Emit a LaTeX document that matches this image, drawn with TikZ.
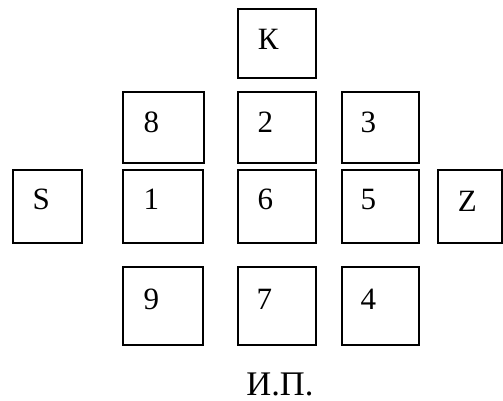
\documentclass[tikz,border=0pt]{standalone}
\usepackage{fontspec}
\setmainfont{Liberation Serif}
\begin{document}
\begin{tikzpicture}[x=1pt,y=1pt,
  cell/.style={draw, line width=1.5pt, inner sep=0pt, minimum width=#1},
  cell/.default=79pt,
  tag/.style={inner sep=0pt, font=\fontsize{31}{31}\selectfont},
]
\useasboundingbox (0,0) rectangle (503,400);
% top box
\node[cell=78pt, minimum height=69pt] (bK) at (277,356.5) {};
% second row
\node[cell=81pt, minimum height=71pt] (b8) at (163.5,272.5) {};
\node[cell=78pt, minimum height=71pt] (b2) at (277,272.5) {};
\node[cell=77pt, minimum height=71pt] (b3) at (380.5,272.5) {};
% middle row
\node[cell=69pt, minimum height=73pt] (bS) at (47.5,193.5) {};
\node[cell=80pt, minimum height=73pt] (b1) at (163,193.5) {};
\node[cell=78pt, minimum height=73pt] (b6) at (277,193.5) {};
\node[cell=77pt, minimum height=73pt] (b5) at (380.5,193.5) {};
\node[cell=64pt, minimum height=73pt] (bZ) at (470,193.5) {};
% bottom row
\node[cell=80pt, minimum height=78pt] (b9) at (163,94) {};
\node[cell=78pt, minimum height=78pt] (b7) at (277,94) {};
\node[cell=77pt, minimum height=78pt] (b4) at (380.5,94) {};
% labels inside the boxes
\node[tag] (tK) at ([shift={(31,-31)}]bK.north west) {К};
\node[tag] (t8) at ([shift={(29,-31)}]b8.north west) {8};
\node[tag] (t2) at ([shift={(28,-31)}]b2.north west) {2};
\node[tag] (t3) at ([shift={(27,-31)}]b3.north west) {3};
\node[tag] (tS) at ([shift={(29,-30)}]bS.north west) {S};
\node[tag] (t1) at ([shift={(29,-30)}]b1.north west) {1};
\node[tag] (t6) at ([shift={(28,-30)}]b6.north west) {6};
\node[tag] (t5) at ([shift={(27,-30)}]b5.north west) {5};
\node[tag] (tZ) at ([shift={(30,-32)}]bZ.north west) {Z};
\node[tag] (t9) at ([shift={(29,-33)}]b9.north west) {9};
\node[tag] (t7) at ([shift={(27,-33)}]b7.north west) {7};
\node[tag] (t4) at ([shift={(27,-33)}]b4.north west) {4};
% caption
\node[inner sep=0pt, anchor=base, font=\fontsize{34.5}{34.5}\selectfont] (ip) at (280,4.5) {И.П.};
\end{tikzpicture}
\end{document}
